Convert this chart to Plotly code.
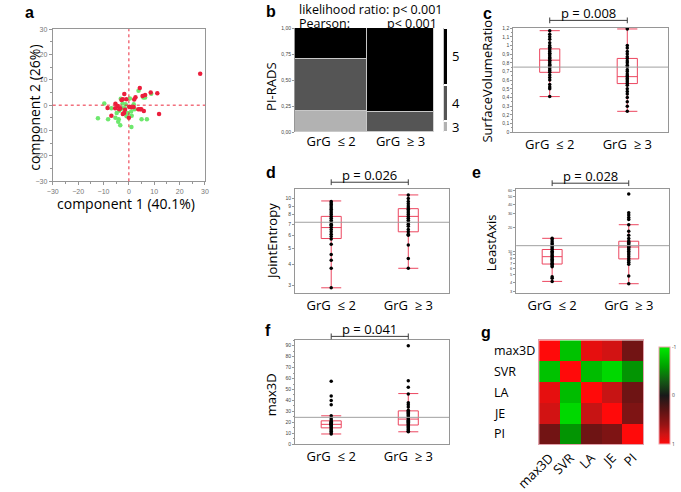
import plotly.graph_objects as go

W, H = 681, 492

# ---------------- data ----------------
# a: PCA scores (red = GrG >= 3, green = GrG <= 2)
pca_red_x = [28.1, 4.3, 8.6, 11.2, 6.4, 5.4, 2.6, 2.1, -1.8, -1.0, -2.4, -2.9, -5.3, -4.4, -8.4, -5.4, -3.4, 0.1, 1.0, 1.9,
             3.7, 4.4, 4.9, 5.9, 11.9, -1.9, -2.4, -6.9, 0.0, -1.5, -3.8]
pca_red_y = [12.4, 6.8, 5.0, 4.7, 4.0, 3.6, 3.1, 2.2, 4.4, 2.3, 2.3, 2.0, 0.6, -0.3, -1.1, -1.2, -1.2, -0.6, -0.8, -0.7,
             -1.6, -1.6, -1.6, -2.3, -3.5, -3.1, -3.5, -4.2, -5.0, -1.8, -1.6]
pca_green_x = [3.8, 5.7, 6.4, 8.8, 0.4, -3.2, -9.7, -1.3, -2.5, 1.9, -6.9, -3.2, -3.8, -1.6, -0.9, 0.9, 2.3, 1.1, -12.2, -8.2,
               -5.3, -4.0, -4.2, -3.4, 1.0, 5.0, 7.1, -4.8, -2.5, -0.4]
pca_green_y = [5.7, 3.0, 3.0, 4.5, 2.6, 2.5, 0.7, 0.4, 0.7, 0.4, -1.2, -1.5, -2.2, -1.2, -4.4, -2.5, -1.6, -4.2, -5.2, -5.6,
               -5.0, -5.6, -6.5, -7.9, -8.6, -5.6, -5.6, -3.1, -1.2, -3.1]
pca_ticks = [-30, -20, -10, 0, 10, 20, 30]

# b: mosaic PI-RADS vs GrG
groups = ["GrG  \u2264 2", "GrG  \u2265 3"]
grg_share = [0.52, 0.48]
pirads_levels = ["3", "4", "5"]
pirads3 = [0.20, 0.00]
pirads4 = [0.50, 0.19]
pirads5 = [0.30, 0.81]
pirads_colors = ["rgb(178,178,178)", "rgb(85,85,85)", "rgb(0,0,0)"]
mosaic_ticks = [0, 0.25, 0.5, 0.75, 1.0]

# c: SurfaceVolumeRatio
svr_g1 = [1.17, 1.13, 1.10, 1.07, 1.03, 1.00, 0.98, 0.97, 0.95, 0.93, 0.91, 0.90, 0.88, 0.86, 0.85, 0.83, 0.82, 0.80,
          0.78, 0.77, 0.75, 0.73, 0.71, 0.69, 0.66, 0.63, 0.60, 0.55, 0.52, 0.50, 0.41]
svr_g2 = [1.19, 1.00, 0.97, 0.93, 0.90, 0.87, 0.85, 0.82, 0.80, 0.77, 0.75, 0.72, 0.70, 0.67, 0.65, 0.64, 0.62, 0.60,
          0.58, 0.56, 0.54, 0.50, 0.47, 0.44, 0.40, 0.35, 0.30, 0.24]
svr_q1 = [0.69, 0.56]
svr_med = [0.83, 0.64]
svr_q3 = [0.96, 0.85]
svr_lo = [0.41, 0.24]
svr_hi = [1.17, 1.19]
svr_grand = 0.75
svr_p = "p = 0.008"

# d: JointEntropy
je_g1 = [9.6, 9.4, 9.2, 9.0, 8.8, 8.6, 8.4, 8.2, 8.0, 7.8, 7.6, 7.4, 7.2, 7.0, 6.9, 6.7, 6.5, 6.3, 6.1, 5.9, 5.7, 5.3,
         4.6, 4.25, 3.8, 2.9]
je_g2 = [10.5, 10.0, 9.6, 9.3, 9.0, 8.8, 8.6, 8.4, 8.2, 8.0, 7.8, 7.6, 7.4, 7.2, 7.0, 6.8, 6.5, 6.3, 6.1, 6.0, 5.25,
         4.35, 3.8]
je_q1 = [5.74, 6.3]
je_med = [6.68, 7.8]
je_q3 = [7.8, 8.68]
je_lo = [2.9, 3.8]
je_hi = [9.66, 10.5]
je_grand = 7.19
je_p = "p = 0.026"
je_ticks = [3, 4, 5, 6, 7, 8, 9, 10]

# e: LeastAxis
la_g1 = [14.6, 14.0, 13.2, 12.5, 12.0, 11.5, 11.0, 10.5, 10.0, 9.6, 9.2, 8.8, 8.5, 8.2, 7.9, 7.6, 7.3, 7.0, 6.8, 6.5,
         6.3, 4.7, 4.5, 4.1]
la_g2 = [54.0, 31.0, 29.0, 27.0, 25.5, 21.8, 18.0, 16.0, 14.5, 13.5, 13.0, 12.5, 12.0, 11.5, 11.3, 11.0, 10.5, 10.0,
         9.5, 9.0, 8.5, 8.0, 7.6, 7.2, 6.8, 4.8, 3.83]
la_q1 = [6.84, 7.96]
la_med = [8.5, 11.3]
la_q3 = [10.5, 13.4]
la_lo = [4.1, 3.83]
la_hi = [14.6, 21.8]
la_grand = 11.75
la_p = "p = 0.028"
la_ticks = [3, 4, 5, 6, 7, 8, 9, 10, 20, 30, 40, 50, 60]

# f: max3D
mx_g1 = [57.5, 44.0, 40.0, 36.0, 26.0, 24.0, 22.5, 21.0, 20.0, 19.5, 19.0, 18.5, 18.0, 17.5, 17.0, 16.0, 15.0, 14.0,
         13.0, 12.0, 10.5, 9.4]
mx_g2 = [90.0, 58.0, 52.0, 46.0, 38.0, 36.0, 34.0, 31.0, 30.0, 29.0, 28.0, 27.0, 26.0, 25.0, 24.0, 23.0, 22.0, 21.0,
         20.0, 19.0, 18.0, 17.0, 16.0, 15.0, 14.0, 13.0, 12.0, 11.4]
mx_q1 = [15.0, 17.6]
mx_med = [18.2, 23.0]
mx_q3 = [21.4, 30.5]
mx_lo = [9.4, 11.4]
mx_hi = [26.0, 46.3]
mx_grand = 24.6
mx_p = "p = 0.041"

# g: correlation matrix
corr_labels = ["max3D", "SVR", "LA", "JE", "PI"]
corr = [
    [1.00, -0.78, 0.90, 0.82, 0.42],
    [-0.78, 1.00, -0.75, -0.90, -0.55],
    [0.90, -0.75, 1.00, 0.78, 0.40],
    [0.82, -0.90, 0.78, 1.00, 0.48],
    [0.42, -0.55, 0.40, 0.48, 1.00],
]
corr_cbar_ticks = [-1, 0, 1]

# ---------------- helpers ----------------
FONT = "Open Sans"
def dx(a, b):
    return [a / W, b / W]

def dy(top, bottom):
    return [1 - bottom / H, 1 - top / H]

BOX_RED = "rgb(236,70,95)"
FRAME = "rgb(150,150,150)"

fig = go.Figure()
ann = []
shapes = []

# ---------------- a ----------------
fig.add_trace(go.Scatter(x=pca_green_x, y=pca_green_y, mode="markers", xaxis="x", yaxis="y",
                         marker=dict(size=4.5, color="rgb(110,232,110)")))
fig.add_trace(go.Scatter(x=pca_red_x, y=pca_red_y, mode="markers", xaxis="x", yaxis="y",
                         marker=dict(size=4.5, color="rgb(235,30,60)")))
shapes.append(dict(type="line", xref="x", yref="y domain", x0=0, x1=0, y0=0, y1=1,
                   line=dict(color="rgb(235,40,60)", width=1, dash="dot")))
shapes.append(dict(type="line", xref="x domain", yref="y", x0=0, x1=1, y0=0, y1=0,
                   line=dict(color="rgb(235,40,60)", width=1, dash="dot")))

# ---------------- b ----------------
share_centers = [grg_share[0] / 2, grg_share[0] + grg_share[1] / 2]
for lvl, vals, col in zip(pirads_levels, [pirads3, pirads4, pirads5], pirads_colors):
    fig.add_trace(go.Bar(x=share_centers, y=vals, width=grg_share, xaxis="x2", yaxis="y2",
                         marker=dict(color=col, line=dict(color="rgb(200,200,200)", width=1.2))))
# marginal legend bar
marg = [sum(s * v for s, v in zip(grg_share, vals)) for vals in [pirads3, pirads4, pirads5]]
cum = 0
for lvl, m, col in zip(pirads_levels, marg, pirads_colors):
    fig.add_trace(go.Bar(x=[0], y=[m], width=[1], xaxis="x8", yaxis="y8",
                         marker=dict(color=col, line=dict(color="white", width=2))))
    ann.append(dict(x=1, y=cum + m / 2, xref="x8 domain", yref="y8", text=lvl, showarrow=False,
                    xanchor="left", xshift=2, font=dict(size=13, color="black", family=FONT)))
    cum += m

ann.append(dict(x=284 / W, y=1 - 5.5 / H, xref="paper", yref="paper", text="likelihood ratio: p< 0.001",
                showarrow=False, xanchor="left", yanchor="middle", font=dict(size=12.5, family=FONT, color="black")))
ann.append(dict(x=284 / W, y=1 - 20 / H, xref="paper", yref="paper", text="Pearson:",
                showarrow=False, xanchor="left", yanchor="middle", font=dict(size=12.5, family=FONT, color="black")))
ann.append(dict(x=376 / W, y=1 - 20 / H, xref="paper", yref="paper", text="p< 0.001",
                showarrow=False, xanchor="left", yanchor="middle", font=dict(size=12.5, family=FONT, color="black")))

# ---------------- box panels ----------------
def box_panel(ax, g1, g2, q1, med, q3, lo, hi, grand, ptxt, bracket_px):
    xa = "x" + ax
    ya = "y" + ax
    fig.add_trace(go.Box(x=[0, 1], q1=q1, median=med, q3=q3, lowerfence=lo, upperfence=hi,
                         xaxis=xa, yaxis=ya, width=0.26, whiskerwidth=1, boxpoints=False,
                         line=dict(color=BOX_RED, width=1), fillcolor="rgba(0,0,0,0)"))
    fig.add_trace(go.Scatter(x=[0] * len(g1) + [1] * len(g2), y=g1 + g2, mode="markers",
                             xaxis=xa, yaxis=ya, marker=dict(size=3.5, color="black")))
    shapes.append(dict(type="line", xref=xa + " domain", yref=ya, x0=0, x1=1, y0=grand, y1=grand,
                       line=dict(color="rgb(160,160,160)", width=1)))
    by = 1 + bracket_px / 108.0
    tk = 3 / 108.0
    shapes.append(dict(type="line", xref=xa, yref=ya + " domain", x0=0, x1=1, y0=by, y1=by,
                       line=dict(color="rgb(60,60,60)", width=1)))
    for xx in (0, 1):
        shapes.append(dict(type="line", xref=xa, yref=ya + " domain", x0=xx, x1=xx, y0=by - tk, y1=by + tk,
                           line=dict(color="rgb(60,60,60)", width=1)))
    ann.append(dict(x=0.5, y=by, xref=xa, yref=ya + " domain", text=ptxt, showarrow=False,
                    yanchor="bottom", yshift=-4, font=dict(size=13, family=FONT, color="black")))

box_panel("3", svr_g1, svr_g2, svr_q1, svr_med, svr_q3, svr_lo, svr_hi, svr_grand, svr_p, 8)
box_panel("4", je_g1, je_g2, je_q1, je_med, je_q3, je_lo, je_hi, je_grand, je_p, 7)
box_panel("5", la_g1, la_g2, la_q1, la_med, la_q3, la_lo, la_hi, la_grand, la_p, 6)
box_panel("6", mx_g1, mx_g2, mx_q1, mx_med, mx_q3, mx_lo, mx_hi, mx_grand, mx_p, 4)

# ---------------- g ----------------
zneg = [[-v for v in row] for row in corr]
cscale = [[0.0, "rgb(255,10,10)"], [0.1, "rgb(205,20,20)"], [0.2, "rgb(150,20,20)"], [0.35, "rgb(90,20,20)"],
          [0.5, "rgb(25,25,25)"], [0.65, "rgb(20,90,20)"], [0.8, "rgb(0,160,0)"], [1.0, "rgb(0,235,0)"]]
fig.add_trace(go.Heatmap(z=zneg, x=corr_labels, y=corr_labels, xaxis="x7", yaxis="y7", zmin=-1, zmax=1,
                         colorscale=cscale,
                         colorbar=dict(x=662 / W, xanchor="left", thickness=11, thicknessmode="pixels",
                                       len=(457 - 356) / H, lenmode="fraction", y=1 - (356 + 457) / 2 / H,
                                       yanchor="middle", outlinewidth=1, outlinecolor="rgb(240,160,170)",
                                       xpad=0, ypad=0, tickvals=[-t for t in corr_cbar_ticks],
                                       ticktext=[str(t) for t in corr_cbar_ticks], ticks="",
                                       tickfont=dict(size=5, color="#444"))))
for lab in corr_labels:
    ann.append(dict(x=488 / W, y=lab, xref="paper", yref="y7", text=lab, showarrow=False, xanchor="left",
                    font=dict(size=12.5, family=FONT, color="black")))

# ---------------- axis titles / letters ----------------
def title(x, y, text, angle=0, size=13):
    ann.append(dict(x=x / W, y=1 - y / H, xref="paper", yref="paper", text=text, showarrow=False,
                    textangle=angle, xanchor="center", yanchor="middle",
                    font=dict(size=size, family=FONT, color="black")))

title(105, 207, "component 1 (40.1%)", size=14)
title(9, 108, "component 2 (26%)", -90, size=14)
title(257, 86, "PI-RADS", -90)
title(483, 80, "SurfaceVolumeRatio", -90)
title(258, 247, "JointEntropy", -90)
title(487, 248, "LeastAxis", -90)
title(257, 406, "max3D", -90)

for letter, lx, ly in [("a", 5, 9), ("b", 257, 8), ("c", 483, 10), ("d", 257, 175), ("e", 472, 175),
                       ("f", 254, 339), ("g", 482, 341)]:
    ann.append(dict(x=lx / W, y=1 - ly / H, xref="paper", yref="paper", text="<b>" + letter + "</b>",
                    showarrow=False, xanchor="center", yanchor="middle",
                    font=dict(size=16, family="Liberation Sans", color="black")))

# ---------------- axes ----------------
frame = dict(showline=True, mirror=True, linecolor=FRAME, linewidth=1, showgrid=False, zeroline=False)
tiny = dict(size=5, color="#444", family="Liberation Sans")
tinier = dict(size=4, color="#444", family="Liberation Sans")
grp_font = dict(size=13, family=FONT, color="black")
xbox = dict(range=[-0.47, 1.53], tickvals=[0, 1], ticktext=groups, ticks="", tickfont=grp_font, **frame)

layout = dict(
    width=W, height=H, autosize=False, margin=dict(l=0, r=0, t=0, b=0),
    paper_bgcolor="white", plot_bgcolor="white", showlegend=False, separators=", ",
    font=dict(family=FONT), barmode="stack", bargap=0,
    xaxis=dict(domain=dx(29, 188), anchor="y", range=[-30, 30], tickvals=pca_ticks, ticks="outside", ticklen=3,
               tickcolor=FRAME, tickfont=dict(size=7, color="#777", family="Liberation Sans"),
               minor=dict(ticks="outside", ticklen=2, dtick=5, tickcolor=FRAME), **frame),
    yaxis=dict(domain=dy(26, 184), anchor="x", range=[-30, 30], tickvals=pca_ticks, ticks="outside", ticklen=3,
               tickcolor=FRAME, tickfont=dict(size=7, color="#777", family="Liberation Sans"),
               minor=dict(ticks="outside", ticklen=2, dtick=5, tickcolor=FRAME), **frame),
    xaxis2=dict(domain=dx(282, 427), anchor="y2", range=[0, 1], tickvals=share_centers, ticktext=groups,
                ticks="", tickfont=grp_font, showline=False, showgrid=False, zeroline=False),
    yaxis2=dict(domain=dy(25, 133), anchor="x2", range=[0, 1], tickvals=mosaic_ticks, tickformat=".2f",
                ticks="outside", ticklen=2, tickcolor=FRAME, tickfont=tiny, showline=True, linecolor=FRAME,
                showgrid=False, zeroline=False),
    xaxis8=dict(domain=dx(437, 442), anchor="y8", range=[-0.5, 0.5], visible=False),
    yaxis8=dict(domain=dy(25, 133), anchor="x8", range=[0, 1], visible=False),
    xaxis3=dict(domain=dx(510, 672), anchor="y3", **xbox),
    yaxis3=dict(domain=dy(25, 133), anchor="x3", range=[0, 1.2], dtick=0.1, ticks="outside", ticklen=2,
                tickcolor=FRAME, tickfont=tiny, minor=dict(ticks="outside", ticklen=1, dtick=0.05, tickcolor=FRAME),
                **frame),
    xaxis4=dict(domain=dx(282, 443), anchor="y4", **xbox),
    yaxis4=dict(domain=dy(192, 300), anchor="x4", type="log", range=[0.431, 1.057], tickvals=je_ticks,
                ticktext=[str(t) for t in je_ticks], ticks="outside", ticklen=2, tickcolor=FRAME, tickfont=tiny,
                **frame),
    xaxis5=dict(domain=dx(513, 673), anchor="y5", **xbox),
    yaxis5=dict(domain=dy(192, 300), anchor="x5", type="log", range=[0.464, 1.796], tickvals=la_ticks,
                ticktext=[str(t) for t in la_ticks], ticks="outside", ticklen=2, tickcolor=FRAME, tickfont=tinier,
                **frame),
    xaxis6=dict(domain=dx(282, 443), anchor="y6", **xbox),
    yaxis6=dict(domain=dy(349, 457), anchor="x6", range=[0, 95], dtick=10, ticks="outside", ticklen=2,
                tickcolor=FRAME, tickfont=tiny, minor=dict(ticks="outside", ticklen=1, dtick=5, tickcolor=FRAME),
                **frame),
    xaxis7=dict(domain=dx(537, 646), anchor="y7", tickangle=-45, ticks="", tickfont=grp_font,
                showline=True, mirror=True, linecolor="rgb(225,160,170)", showgrid=False, zeroline=False),
    yaxis7=dict(domain=dy(349, 457), anchor="x7", autorange="reversed", showticklabels=False, ticks="",
                showline=True, mirror=True, linecolor="rgb(225,160,170)", showgrid=False, zeroline=False),
    annotations=ann, shapes=shapes,
)
fig.update_layout(**layout)
fig.write_html("out.html", config={"displayModeBar": False},
               post_script="document.body.style.margin='0px';document.body.style.overflow='hidden';")
